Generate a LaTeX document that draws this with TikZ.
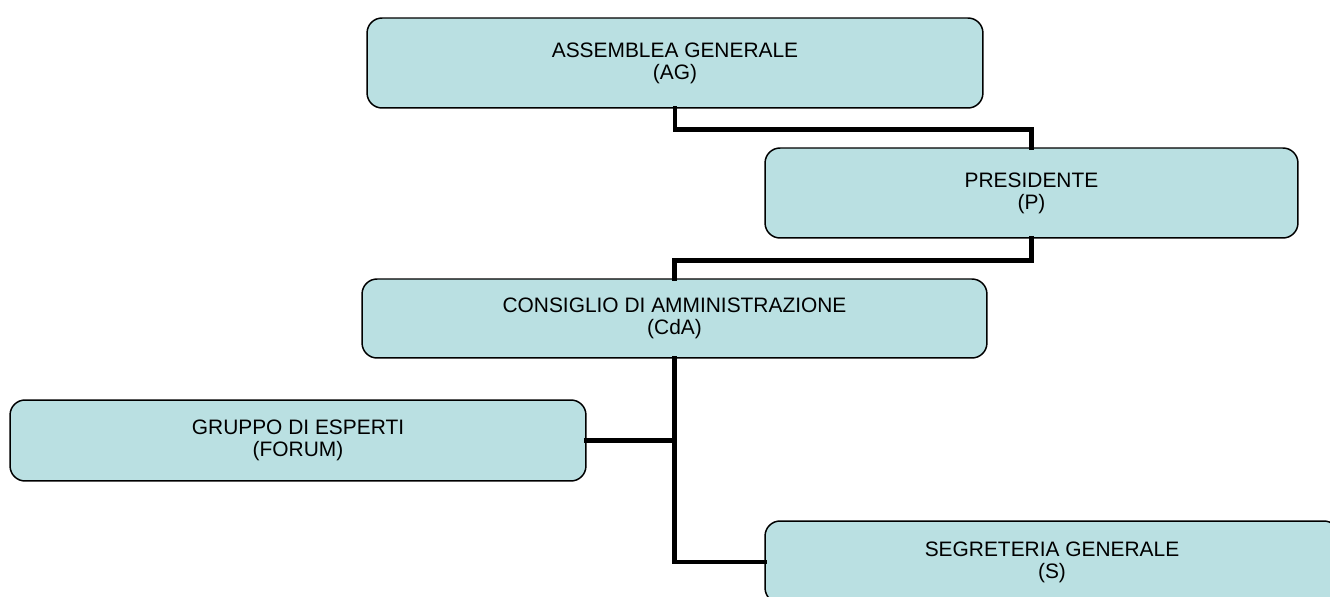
\documentclass[tikz,border=0pt]{standalone}
\usepackage{fontspec}
\setmainfont{Liberation Sans}
\usepackage{tikz}
\definecolor{boxteal}{HTML}{BAE0E2}

\begin{document}
\begin{tikzpicture}[
  x=0.02cm, y=-0.02cm,
  unit/.style={draw, line width=0.85pt, rounded corners=0.3cm, fill=boxteal,
               align=center, inner sep=0pt,
               font=\fontsize{11.9}{12.6}\selectfont},
  link/.style={line width=2.8pt, line cap=rect},
]
\useasboundingbox (0,0) rectangle (1330,597);

\node[unit, minimum width=12.32cm, minimum height=1.8cm] (ag) at (675,63)
  {ASSEMBLEA GENERALE\\(AG)};
\node[unit, minimum width=10.66cm, minimum height=1.8cm] (pres) at (1031.5,193)
  {PRESIDENTE\\(P)};
\node[unit, minimum width=12.5cm, minimum height=1.58cm] (cda) at (674.5,318.5)
  {CONSIGLIO DI AMMINISTRAZIONE\\(CdA)};
\node[unit, minimum width=11.52cm, minimum height=1.62cm] (forum) at (298,440.5)
  {GRUPPO DI ESPERTI\\(FORUM)};
\node[unit, minimum width=11.48cm, minimum height=1.64cm] (segr) at (1052,562)
  {SEGRETERIA GENERALE\\(S)};

% connectors
\draw[link] (ag.south) -- ++(0,21) -| (pres.north);
\draw[link] (pres.south) -- ++(0,22) -| (cda.north);
\draw[link] (cda.south) |- (segr.west);
\draw[link] (forum.east) -| (cda.south);

\end{tikzpicture}
\end{document}
